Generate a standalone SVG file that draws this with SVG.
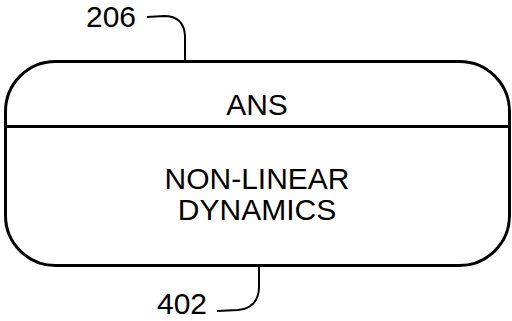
<svg xmlns="http://www.w3.org/2000/svg" width="512" height="321" viewBox="0 0 512 321">
<style>
.t{font-family:"Liberation Sans",Arial,sans-serif;font-size:30px;fill:#000}
.s{fill:none;stroke:#000;stroke-width:3}
.l{fill:none;stroke:#000;stroke-width:2}
</style>
<rect width="512" height="321" fill="#fff"/>
<g id="node-ans">
<rect class="s" x="5.5" y="61.5" width="504" height="204" rx="50" ry="50"/>
<line class="s" x1="5.5" y1="126.5" x2="509.5" y2="126.5"/>
<text class="t" x="257" y="115" text-anchor="middle">ANS</text>
<text class="t" x="257" y="189" text-anchor="middle">NON-LINEAR</text>
<text class="t" x="257" y="220" text-anchor="middle">DYNAMICS</text>
</g>
<g id="connectors">
<path class="l" d="M147,17 L164,16 Q184,16 185,36 L185,61"/>
<path class="l" d="M217,311 L238,310 Q258,308 259,288 L259,266"/>
</g>
<g id="label-206"><text class="t" x="86" y="27">206</text></g>
<g id="label-402"><text class="t" x="157" y="314">402</text></g>
</svg>
